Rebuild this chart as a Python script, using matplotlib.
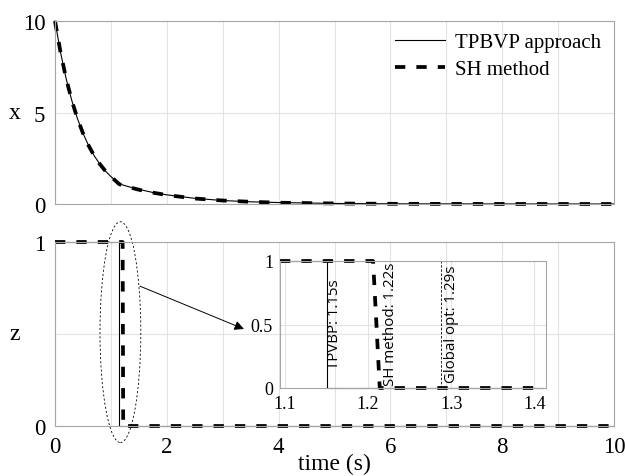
import matplotlib
matplotlib.use("Agg")
import matplotlib.pyplot as plt
from matplotlib.patches import Ellipse

# ---------------- data ----------------
t_x = [0.0, 0.1, 0.2, 0.3, 0.4, 0.5, 0.6, 0.7, 0.8, 0.9, 1.0, 1.15,
       1.3, 1.5, 1.75, 2.0, 2.5, 3.0, 3.5, 4.0, 5.0, 6.0, 7.0, 8.0, 10.0]
x_tpbvp = [10.0, 8.27, 6.84, 5.66, 4.68, 3.87, 3.20, 2.64, 2.19, 1.81, 1.50, 1.10,
           0.96, 0.80, 0.63, 0.50, 0.31, 0.19, 0.12, 0.08, 0.03, 0.01, 0.005, 0.002, 0.0]
x_sh = [10.0, 8.27, 6.84, 5.66, 4.68, 3.87, 3.20, 2.64, 2.19, 1.81, 1.50, 1.08,
        0.94, 0.78, 0.62, 0.49, 0.30, 0.19, 0.12, 0.07, 0.03, 0.01, 0.005, 0.002, 0.0]

t_z_tpbvp = [0.0, 1.15, 1.15, 10.0]
z_tpbvp = [1, 1, 0, 0]
t_z_sh = [0.0, 1.21, 1.22, 10.0]
z_sh = [1, 1, 0, 0]

t_in_tpbvp = [1.094, 1.15, 1.15, 1.41]
z_in_tpbvp = [1, 1, 0, 0]
t_in_sh = [1.094, 1.206, 1.214, 1.41]
z_in_sh = [1, 1, 0, 0]
t_global = [1.288, 1.288]
z_global = [0, 1]

switch_labels = ["TPVBP: 1.15s", "SH method: 1.22s", "Global opt: 1.29s"]
switch_label_x = [1.151, 1.218, 1.291]
switch_label_y = [0.16, 0.025, 0.05]

main_xticks = list(range(0, 11))
main_xticklabels = ["0", "", "2", "", "4", "", "6", "", "8", "", "10"]
inset_xticks = [1.1, 1.2, 1.3, 1.4]
inset_xticklabels = ["1.1", "1.2", "1.3", "1.4"]

# ---------------- style ----------------
plt.rcParams['font.family'] = ['Liberation Serif', 'DejaVu Serif']
plt.rcParams['lines.scale_dashes'] = True
SPINE = '#a6a6a6'
GRID = '#e3e3e3'
THICK = 2.7
THIN = 0.8
DASH = (2.75, 2.95)

fig = plt.figure(figsize=(6.25, 4.77), dpi=100)
W, H = 625.0, 477.0

def ax_rect(l, t, r, b):
    return [l / W, 1 - b / H, (r - l) / W, (b - t) / H]

ax1 = fig.add_axes(ax_rect(55, 22, 614, 205))
ax2 = fig.add_axes(ax_rect(55, 243, 614, 427))

def style(ax):
    for s in ax.spines.values():
        s.set_color(SPINE)
        s.set_linewidth(0.8)
    ax.grid(True, color=GRID, linewidth=0.8)
    ax.set_axisbelow(True)
    ax.tick_params(length=0, labelsize=16.5, pad=7)

for ax in (ax1, ax2):
    style(ax)
    ax.set_xlim(0, 10)
    ax.set_xticks(main_xticks)

# top plot
ax1.plot(t_x, x_tpbvp, color='black', lw=THIN, label='TPBVP approach', clip_on=False)
ax1.plot(t_x, x_sh, color='black', lw=THICK, dashes=DASH, label='SH method', clip_on=False)
ax1.set_ylim(0, 10)
ax1.set_yticks([0, 5, 10])
ax1.set_xticklabels([])
ax1.set_ylabel('x', fontsize=17, rotation=0, va='center', ha='center')
ax1.yaxis.set_label_coords(-0.072, 0.5)
leg = ax1.legend(loc='upper left', bbox_to_anchor=(0.608, 0.935), frameon=False,
                 fontsize=15, handlelength=2.4, handletextpad=0.5,
                 borderpad=0, borderaxespad=0, labelspacing=0.35)

# bottom plot
ax2.plot(t_z_tpbvp, z_tpbvp, color='black', lw=THIN, clip_on=False)
ax2.plot(t_z_sh, z_sh, color='black', lw=THICK, dashes=DASH, clip_on=False)
ax2.set_ylim(0, 1)
ax2.set_yticks([0, 0.5, 1])
ax2.set_yticklabels(['0', '', '1'])
ax2.set_xticklabels(main_xticklabels)
ax2.set_ylabel('z', fontsize=17, rotation=0, va='center', ha='center')
ax2.yaxis.set_label_coords(-0.072, 0.5)
ax2.set_xlabel('time (s)', fontsize=17)
ax2.xaxis.set_label_coords(0.5, -0.205)
ax2.xaxis.label.set_va('center')

ell = Ellipse((1.17, 0.51), 0.73, 1.2, fill=False, edgecolor='black', lw=0.6,
              linestyle=(0, (2.5, 2.5)), clip_on=False)
ax2.add_patch(ell)
ax2.annotate('', xy=(3.38, 0.527), xytext=(1.52, 0.76),
             arrowprops=dict(arrowstyle='-|>', color='black', lw=0.7,
                             mutation_scale=14, shrinkA=0, shrinkB=0))

# inset
axi = fig.add_axes(ax_rect(280, 262, 546, 389))
axi.patch.set_alpha(0)
style(axi)
axi.tick_params(labelsize=13, pad=5)
axi.plot(t_in_tpbvp, z_in_tpbvp, color='black', lw=THIN, clip_on=False)
axi.plot(t_in_sh, z_in_sh, color='black', lw=THICK, dashes=DASH, clip_on=False)
axi.plot(t_global, z_global, color='black', lw=0.6, dashes=(3, 2))
axi.set_xlim(1.094, 1.414)
axi.set_ylim(0, 1)
axi.set_xticks(inset_xticks)
axi.set_xticklabels(inset_xticklabels)
axi.set_yticks([0, 0.5, 1])
axi.set_yticklabels(['0', '0.5', '1'])
for lbl, xx, yy in zip(switch_labels, switch_label_x, switch_label_y):
    axi.text(xx, yy, lbl, rotation=90, ha='left', va='bottom', fontsize=10.8,
             family=['Open Sans', 'DejaVu Sans'])

fig.savefig('out.png', dpi=100)
